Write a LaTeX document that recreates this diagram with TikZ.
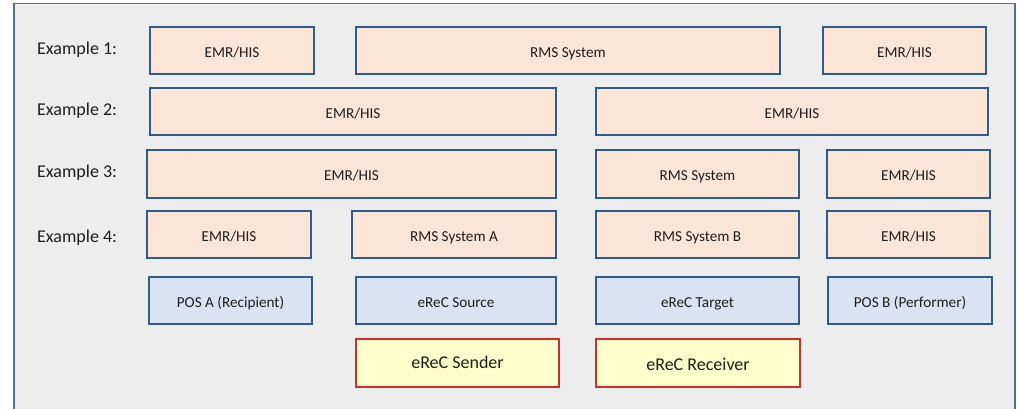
\documentclass[tikz,border=0pt]{standalone}
\usepackage{fontspec}
\setmainfont{Carlito}
\definecolor{panelfill}{HTML}{EDEDED}
\definecolor{panelline}{HTML}{4A6FA5}
\definecolor{boxline}{HTML}{2F5C8A}
\definecolor{peach}{HTML}{FBE5D6}
\definecolor{paleblue}{HTML}{DAE3F3}
\definecolor{paleyellow}{HTML}{FFFFCC}
\definecolor{redline}{HTML}{D42A2A}
\definecolor{ink}{HTML}{1E1E1E}
\tikzset{
  x=1pt, y=-1pt,
  sysbox/.style={draw=boxline, line width=2.2pt, fill=peach, text=ink,
    font=\fontsize{15.2}{17}\selectfont, inner sep=0pt, minimum height=47.5pt,
    text height=13.8pt, text depth=0pt},
  posbox/.style={sysbox, fill=paleblue},
  erecbox/.style={draw=redline, line width=2.2pt, fill=paleyellow, text=ink,
    font=\fontsize{18}{20}\selectfont, inner sep=0pt, minimum height=48pt,
    text height=11.6pt, text depth=0pt},
  rowlabel/.style={anchor=west, text=ink, font=\fontsize{18}{20}\selectfont,
    inner sep=0pt, text height=11.6pt, text depth=0pt}
}
\begin{document}
\begin{tikzpicture}
\useasboundingbox (0,0) rectangle (1019,408);
\begin{scope}
\clip (0,0) rectangle (1019,408);
\draw[panelline, line width=1.6pt, fill=panelfill] (14,3.5) rectangle (1015,430);
\end{scope}

% row labels
\node[rowlabel] (l1) at (37,48.5) {Example 1:};
\node[rowlabel] (l2) at (37,109.7) {Example 2:};
\node[rowlabel] (l3) at (37,171.8) {Example 3:};
\node[rowlabel] (l4) at (37,236.3) {Example 4:};

% Example 1
\node[sysbox, minimum width=164pt] (e1a) at (232,50.5) {EMR/HIS};
\node[sysbox, minimum width=424pt] (e1r) at (568,50.5) {RMS System};
\node[sysbox, minimum width=163pt] (e1b) at (904.5,50.5) {EMR/HIS};

% Example 2
\node[sysbox, minimum width=406pt] (e2a) at (353,111.5) {EMR/HIS};
\node[sysbox, minimum width=392pt] (e2b) at (792,111.5) {EMR/HIS};

% Example 3
\node[sysbox, minimum width=409pt] (e3a) at (351.5,174) {EMR/HIS};
\node[sysbox, minimum width=203pt] (e3r) at (697.5,174) {RMS System};
\node[sysbox, minimum width=163pt] (e3b) at (908.5,174) {EMR/HIS};

% Example 4
\node[sysbox, minimum width=164pt] (e4a) at (229,234.5) {EMR/HIS};
\node[sysbox, minimum width=204pt] (e4ra) at (454,234.5) {RMS System A};
\node[sysbox, minimum width=203pt] (e4rb) at (697.5,234.5) {RMS System B};
\node[sysbox, minimum width=163pt] (e4b) at (908.5,234.5) {EMR/HIS};

% points of service and eReC endpoints
\node[posbox, minimum width=163pt] (posa) at (230.5,300.5) {POS A (Recipient)};
\node[posbox, minimum width=200pt] (src) at (456,300.5) {eReC Source};
\node[posbox, minimum width=203pt] (tgt) at (697.5,300.5) {eReC Target};
\node[posbox, minimum width=164pt] (posb) at (910,300.5) {POS B (Performer)};

% eReC messaging roles
\node[erecbox, minimum width=203pt] (snd) at (457.5,363) {eReC Sender};
\node[erecbox, minimum width=204pt, text height=15.6pt] (rcv) at (698,363) {eReC Receiver};
\end{tikzpicture}
\end{document}
